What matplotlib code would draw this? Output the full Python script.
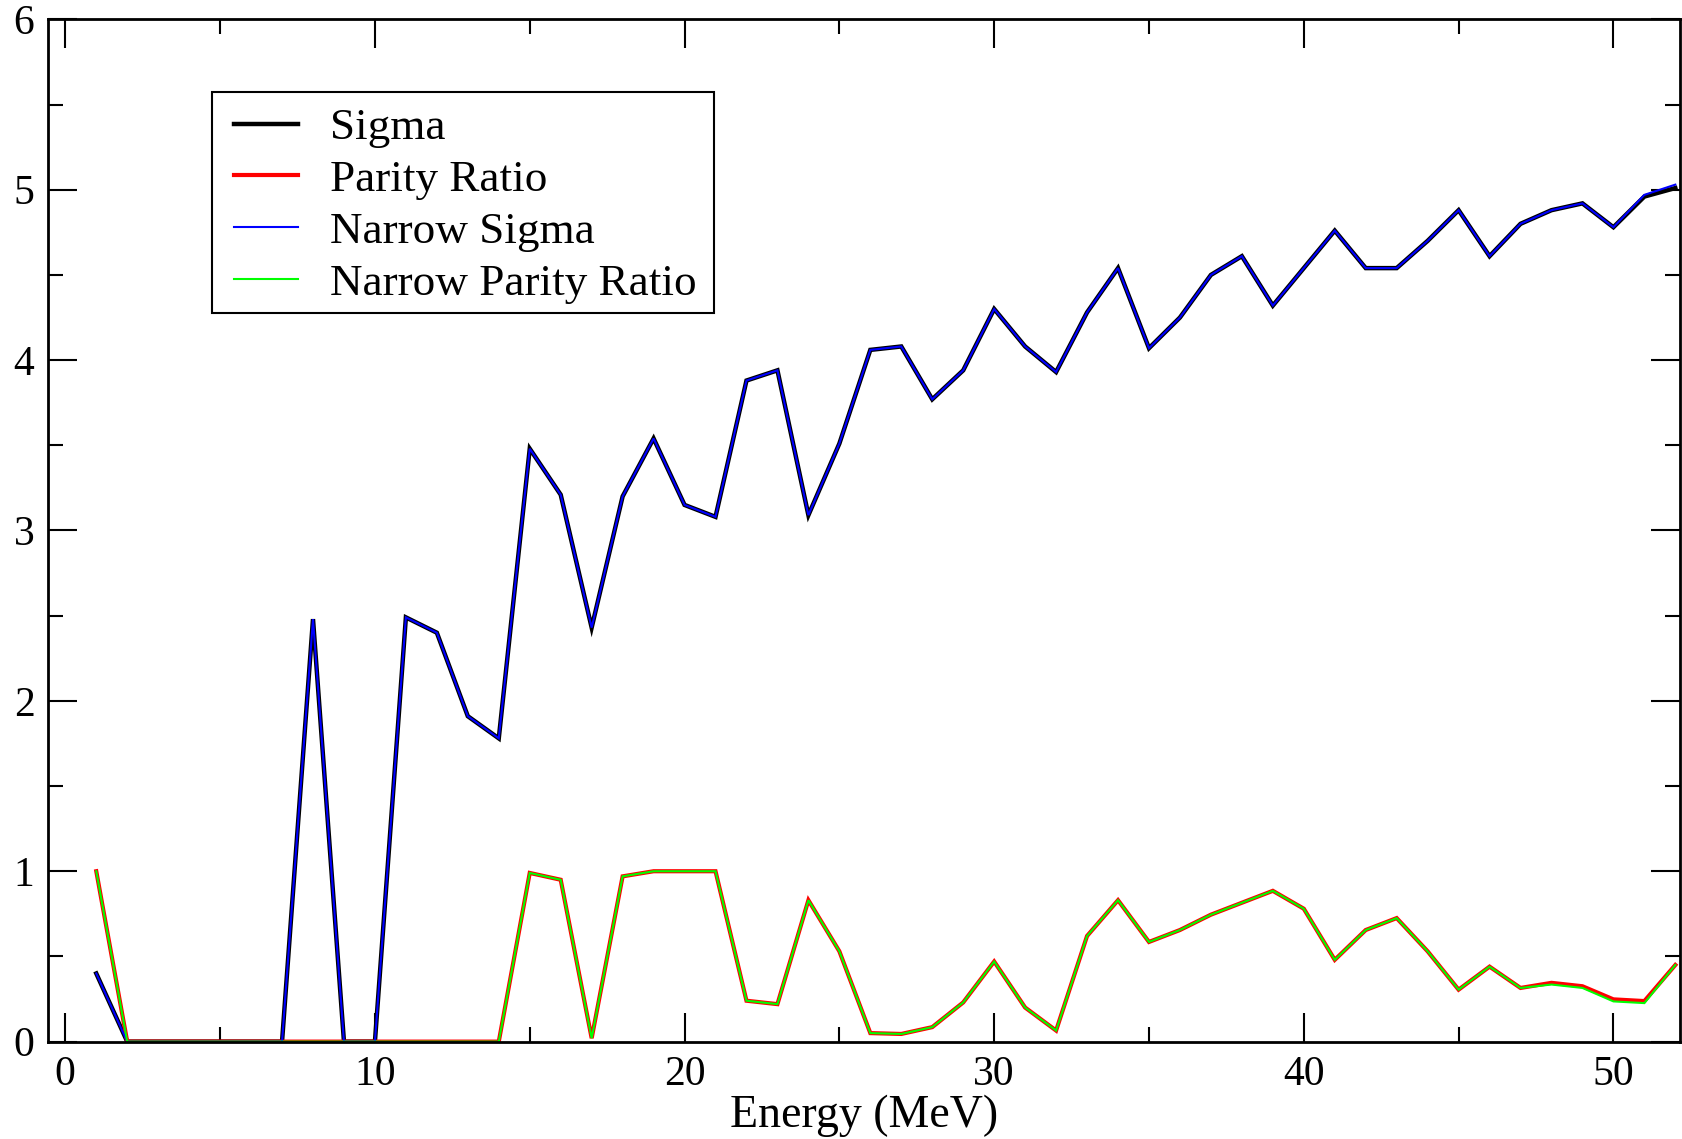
import matplotlib
matplotlib.use("Agg")
import matplotlib.pyplot as plt
from matplotlib.ticker import MultipleLocator
from matplotlib.patches import Rectangle

energy = list(range(1, 53))

sigma = [0.40, 0, 0, 0, 0, 0, 0, 2.48, 0, 0,
         2.49, 2.40, 1.91, 1.78, 3.48, 3.21, 2.43, 3.20, 3.54, 3.15,
         3.08, 3.88, 3.94, 3.09, 3.51, 4.06, 4.08, 3.77, 3.94, 4.30,
         4.08, 3.93, 4.28, 4.54, 4.07, 4.25, 4.50, 4.61, 4.32, 4.54,
         4.76, 4.54, 4.54, 4.70, 4.88, 4.61, 4.80, 4.88, 4.92, 4.78,
         4.96, 5.01]

narrow_sigma = [0.40, 0, 0, 0, 0, 0, 0, 2.48, 0, 0,
                2.49, 2.40, 1.91, 1.78, 3.48, 3.21, 2.43, 3.20, 3.54, 3.15,
                3.08, 3.88, 3.94, 3.09, 3.51, 4.06, 4.08, 3.77, 3.94, 4.30,
                4.08, 3.93, 4.28, 4.54, 4.07, 4.25, 4.50, 4.61, 4.32, 4.54,
                4.76, 4.54, 4.54, 4.70, 4.88, 4.61, 4.80, 4.88, 4.92, 4.78,
                4.97, 5.03]

parity_ratio = [1.00, 0, 0, 0, 0, 0, 0, 0, 0, 0,
                0, 0, 0, 0, 0.99, 0.95, 0.02, 0.97, 1.00, 1.00,
                1.00, 0.24, 0.22, 0.83, 0.53, 0.05, 0.045, 0.085, 0.23, 0.47,
                0.20, 0.065, 0.62, 0.83, 0.585, 0.655, 0.745, 0.815, 0.885, 0.78,
                0.48, 0.655, 0.725, 0.53, 0.305, 0.44, 0.315, 0.345, 0.325, 0.248,
                0.238, 0.45]

narrow_parity_ratio = [1.00, 0, 0, 0, 0, 0, 0, 0, 0, 0,
                       0, 0, 0, 0, 0.99, 0.95, 0.02, 0.97, 1.00, 1.00,
                       1.00, 0.24, 0.22, 0.83, 0.53, 0.05, 0.045, 0.085, 0.23, 0.47,
                       0.20, 0.065, 0.62, 0.83, 0.585, 0.655, 0.745, 0.815, 0.885, 0.78,
                       0.48, 0.655, 0.725, 0.53, 0.305, 0.44, 0.315, 0.335, 0.315, 0.236,
                       0.226, 0.45]

series_labels = ["Sigma", "Parity Ratio", "Narrow Sigma", "Narrow Parity Ratio"]
xlabel = "Energy (MeV)"

plt.rcParams['font.family'] = ['Liberation Serif', 'DejaVu Serif']

fig = plt.figure(figsize=(16.82, 11.39), dpi=100)
ax = fig.add_axes([0.0287, 0.0855, 0.9701, 0.8975])

ax.plot(energy, sigma, color='black', lw=3.2, label=series_labels[0], solid_joinstyle='miter')
ax.plot(energy, parity_ratio, color='#ff0000', lw=3.0, label=series_labels[1], solid_joinstyle='miter')
ax.plot(energy, narrow_sigma, color='#0000ff', lw=1.5, label=series_labels[2], solid_joinstyle='miter')
ax.plot(energy, narrow_parity_ratio, color='#00ff00', lw=1.5, label=series_labels[3], solid_joinstyle='miter')

ax.set_xlim(-0.55, 52.15)
ax.set_ylim(0, 6)
ax.xaxis.set_major_locator(MultipleLocator(10))
ax.xaxis.set_minor_locator(MultipleLocator(5))
ax.yaxis.set_major_locator(MultipleLocator(1))
ax.yaxis.set_minor_locator(MultipleLocator(0.5))

ax.tick_params(which='both', direction='in', top=True, right=True, width=1.5, colors='black')
ax.tick_params(which='major', length=21, labelsize=30, pad=10)
ax.tick_params(which='minor', length=11)
for s in ax.spines.values():
    s.set_linewidth(2.0)

ax.set_xlabel(xlabel, fontsize=33, labelpad=0)

# legend frame drawn as a rectangle, entries placed inside
frame = Rectangle((0.1003, 0.7124), 0.3077, 0.2164, transform=ax.transAxes,
                  facecolor='white', edgecolor='black', lw=1.5, zorder=4)
ax.add_patch(frame)
leg = ax.legend(loc='upper left', bbox_to_anchor=(0.1137, 0.9135), borderaxespad=0,
                fontsize=32.5, frameon=False, handlelength=1.43, handletextpad=0.7,
                labelspacing=0.25, borderpad=0)
leg.set_zorder(5)

fig.savefig("out.png", dpi=100)
